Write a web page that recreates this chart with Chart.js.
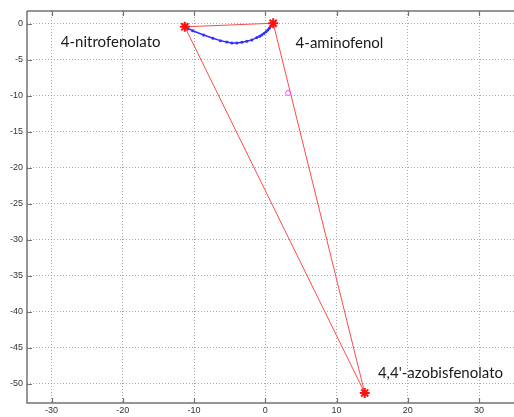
<!DOCTYPE html>
<html>
<head>
<meta charset="utf-8">
<script src="https://cdn.jsdelivr.net/npm/chart.js@4/dist/chart.umd.min.js"></script>
<style>
  html, body { margin: 0; padding: 0; background: #ffffff; overflow: hidden; }
  #wrap { position: relative; width: 514px; height: 417px; }
</style>
</head>
<body>
<div id="wrap"><canvas id="chart" width="514" height="417"></canvas></div>
<script>
// Vertices of the triangle (species)
const speciesNames = ['4-nitrofenolato', '4-aminofenol', "4,4'-azobisfenolato"];
const speciesX = [-11.3, 1.1, 13.95];
const speciesY = [-0.4, 0.1, -51.3];

// Reaction path between the two upper vertices
const pathX = [-11.3, -10.2, -8.65, -7.35, -6.3, -5.4, -4.7, -4.0, -3.3, -2.6, -1.9, -1.2, -0.8, -0.5, -0.2, 0.1, 0.35, 0.56, 0.8, 1.1];
const pathY = [-0.4, -0.95, -1.53, -1.99, -2.32, -2.5, -2.64, -2.64, -2.55, -2.41, -2.22, -1.9, -1.72, -1.53, -1.32, -1.1, -0.85, -0.6, -0.3, 0.1];

// Single marked point
const markX = [3.2];
const markY = [-9.6];

// Axis ticks
const xTicks = [-30, -20, -10, 0, 10, 20, 30];
const yTicks = [0, -5, -10, -15, -20, -25, -30, -35, -40, -45, -50];

const toPoints = (xs, ys) => xs.map((x, i) => ({ x: x, y: ys[i] }));

const trianglePts = toPoints(speciesX, speciesY);
trianglePts.push({ x: speciesX[0], y: speciesY[0] });

const labelOffsets = [
  { dx: -17.4, dy: -2.1 },
  { dx: 3.15, dy: -2.75 },
  { dx: 1.85, dy: 2.8 }
];

const frame = {
  id: 'frame',
  afterDraw(chart) {
    const { ctx, chartArea: a, scales } = chart;
    ctx.save();
    ctx.strokeStyle = '#737373';
    ctx.lineWidth = 1.5;
    ctx.beginPath();
    ctx.moveTo(a.left, a.top);
    ctx.lineTo(a.right, a.top);
    ctx.moveTo(a.left, a.top);
    ctx.lineTo(a.left, a.bottom);
    ctx.lineTo(a.right, a.bottom);
    ctx.stroke();
    ctx.lineWidth = 1.2;
    ctx.beginPath();
    xTicks.forEach(v => {
      const px = Math.round(scales.x.getPixelForValue(v)) + 0.5;
      ctx.moveTo(px, a.bottom); ctx.lineTo(px, a.bottom - 5);
      ctx.moveTo(px, a.top); ctx.lineTo(px, a.top + 5);
    });
    yTicks.forEach(v => {
      const py = Math.round(scales.y.getPixelForValue(v)) + 0.5;
      ctx.moveTo(a.left, py); ctx.lineTo(a.left + 5, py);
    });
    ctx.stroke();
    ctx.restore();
  },
  afterDatasetsDraw(chart) {
    const { ctx, scales } = chart;
    ctx.save();
    ctx.fillStyle = '#1a1a1a';
    ctx.font = '15px Lato, "Open Sans", sans-serif';
    ctx.textBaseline = 'middle';
    ctx.textAlign = 'left';
    speciesNames.forEach((name, i) => {
      const o = labelOffsets[i];
      ctx.fillText(name,
        scales.x.getPixelForValue(speciesX[i] + o.dx),
        scales.y.getPixelForValue(speciesY[i] + o.dy));
    });
    ctx.restore();
  }
};

new Chart(document.getElementById('chart'), {
  type: 'scatter',
  data: {
    datasets: [
      {
        data: toPoints(pathX, pathY),
        showLine: true,
        borderColor: '#3030ff',
        backgroundColor: '#3030ff',
        borderWidth: 1.5,
        pointRadius: 1.5,
        pointBorderWidth: 0,
        order: 2
      },
      {
        data: trianglePts,
        showLine: true,
        borderColor: '#ff4a4a',
        borderWidth: 1,
        pointRadius: 0,
        order: 1
      },
      {
        data: toPoints(speciesX, speciesY),
        showLine: false,
        pointStyle: 'star',
        pointRadius: 5,
        borderColor: '#ff1010',
        pointBorderWidth: 2,
        order: 0
      },
      {
        data: toPoints(markX, markY),
        showLine: false,
        pointStyle: 'circle',
        pointRadius: 2.5,
        borderColor: '#ff44ff',
        backgroundColor: 'rgba(0,0,0,0)',
        pointBorderWidth: 1,
        order: 0
      }
    ]
  },
  options: {
    responsive: false,
    animation: false,
    events: [],
    layout: { autoPadding: false, padding: { top: 11, right: -4, left: 0, bottom: 0 } },
    plugins: { legend: { display: false }, tooltip: { enabled: false } },
    scales: {
      x: {
        type: 'linear',
        min: -33.45,
        max: 34.9,
        afterBuildTicks(scale) { scale.ticks = xTicks.map(v => ({ value: v })); },
        afterFit(scale) {
          scale.height = 14;
          scale.paddingLeft = 0;
          scale.paddingRight = 0;
        },
        ticks: {
          includeBounds: false,
          color: '#333',
          padding: 2,
          maxRotation: 0,
          autoSkip: false,
          font: { family: 'Liberation Sans, Arial, sans-serif', size: 9 }
        },
        grid: { color: '#a8a8a8', lineWidth: 1, drawTicks: false },
        border: { display: false, dash: [1, 2] }
      },
      y: {
        type: 'linear',
        min: -52.7,
        max: 1.8,
        afterBuildTicks(scale) { scale.ticks = yTicks.map(v => ({ value: v })); },
        afterFit(scale) {
          scale.width = 27;
          scale.paddingTop = 0;
          scale.paddingBottom = 0;
        },
        ticks: {
          includeBounds: false,
          color: '#333',
          padding: 4,
          autoSkip: false,
          font: { family: 'Liberation Sans, Arial, sans-serif', size: 9 }
        },
        grid: { color: '#a8a8a8', lineWidth: 1, drawTicks: false },
        border: { display: false, dash: [1, 2] }
      }
    }
  },
  plugins: [frame]
});
</script>
</body>
</html>
